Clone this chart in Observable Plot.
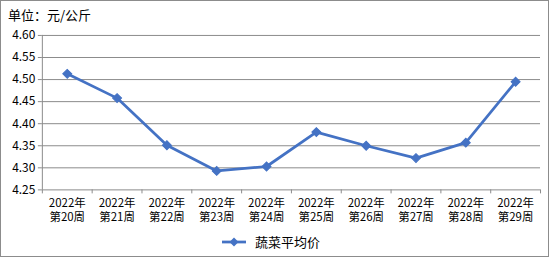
<!DOCTYPE html>
<html>
<head>
<meta charset="utf-8">
<script src="https://cdn.jsdelivr.net/npm/d3@7"></script>
<script src="https://cdn.jsdelivr.net/npm/@observablehq/plot@0.6"></script>
<style>
  html, body { margin: 0; padding: 0; background: #fff; }
  #box {
    position: relative; width: 547px; height: 255px;
    border: 1px solid #8c8c8c; background: #fff; overflow: hidden;
    font-family: "Noto Sans CJK SC", "Noto Sans", sans-serif; color: #000;
  }
  #title { position: absolute; left: 7px; top: 5px; font-size: 13px; line-height: 18px; }
  #chart { position: absolute; left: -1px; top: 21px; }
  #legend { position: absolute; left: 220px; top: 232px; font-size: 13px; line-height: 18px; display: flex; align-items: center; }
  #legend svg { margin-right: 8px; }
</style>
</head>
<body>
<div id="box">
  <div id="title">单位：元/公斤</div>
  <div id="chart"></div>
  <div id="legend"></div>
</div>
<script>
const categories = ["2022年第20周", "2022年第21周", "2022年第22周", "2022年第23周", "2022年第24周",
                    "2022年第25周", "2022年第26周", "2022年第27周", "2022年第28周", "2022年第29周"];
const values = [4.513, 4.458, 4.351, 4.293, 4.303, 4.381, 4.350, 4.322, 4.357, 4.495];
const yTicks = [4.25, 4.30, 4.35, 4.40, 4.45, 4.50, 4.55, 4.60];
const seriesName = "蔬菜平均价";

const blue = "#4472C4";
const grey = "#8c8c8c";
const data = categories.map((c, i) => ({i, c, v: values[i]}));
const idx = categories.map((c, i) => i);
const bounds = [...idx.map(i => i - 0.5), categories.length - 0.5];

const chart = Plot.plot({
  width: 550, height: 210,
  marginLeft: 42, marginRight: 8, marginTop: 13, marginBottom: 42,
  style: {fontFamily: '"Noto Sans CJK SC", "Noto Sans", sans-serif', fontSize: "12px", color: "#000", background: "transparent"},
  x: {type: "linear", domain: [-0.5, categories.length - 0.5], axis: null},
  y: {domain: [yTicks[0], yTicks[yTicks.length - 1]], axis: null},
  marks: [
    Plot.ruleY(yTicks, {stroke: grey, strokeWidth: 1}),
    Plot.ruleX([-0.5], {stroke: grey, strokeWidth: 1}),
    Plot.axisY({ticks: yTicks, tickSize: 4, tickPadding: 3, stroke: grey, label: null,
                tickFormat: d => d.toFixed(2), fontSize: 12}),
    Plot.axisX({ticks: bounds, tickSize: 4, stroke: grey, label: null, tickFormat: () => ""}),
    Plot.axisX({ticks: idx, tickSize: 0, tickPadding: 9, fontSize: 11.5, label: null,
                tickFormat: i => categories[i].slice(0, 5)}),
    Plot.axisX({ticks: idx, tickSize: 0, tickPadding: 23, fontSize: 11.5, label: null,
                tickFormat: i => categories[i].slice(5)}),
    Plot.line(data, {x: "i", y: "v", stroke: blue, strokeWidth: 2.75, strokeLinejoin: "round"}),
    Plot.dot(data, {x: "i", y: "v", symbol: "square", r: 3.6, rotate: 45, fill: blue, stroke: blue, strokeWidth: 1})
  ]
});
document.getElementById("chart").appendChild(chart);

document.getElementById("legend").innerHTML =
  `<svg width="26" height="12"><line x1="1" x2="25" y1="6" y2="6" stroke="${blue}" stroke-width="2.75"/>` +
  `<path d="M13,1.5 L17.5,6 L13,10.5 L8.5,6 Z" fill="${blue}"/></svg><span>${seriesName}</span>`;
</script>
</body>
</html>
